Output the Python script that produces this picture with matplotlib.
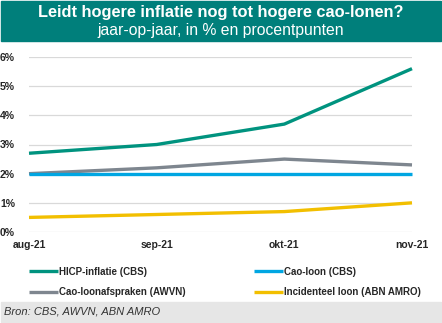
import matplotlib.pyplot as plt
from matplotlib.patches import Rectangle

maanden = ['aug-21', 'sep-21', 'okt-21', 'nov-21']
hicp = [2.7, 3.0, 3.7, 5.6]
cao_cbs = [2.0, 2.0, 2.0, 2.0]
cao_awvn = [2.0, 2.2, 2.5, 2.3]
incidenteel = [0.5, 0.6, 0.7, 1.0]
y_ticks = [0, 1, 2, 3, 4, 5, 6]

# volgorde zo gekozen dat de legenda (kolomsgewijs gevuld) klopt
series = [
    ('HICP-inflatie (CBS)', hicp, '#00937F'),
    ('Cao-loonafspraken (AWVN)', cao_awvn, '#7E868F'),
    ('Cao-loon (CBS)', cao_cbs, '#00A6E2'),
    ('Incidenteel loon (ABN AMRO)', incidenteel, '#F2BF00'),
]

plt.rcParams['font.family'] = ['Liberation Sans', 'DejaVu Sans']

W, H = 442, 323
fig = plt.figure(figsize=(W / 100, H / 100), dpi=100)

# kopbalk en bronbalk
fig.patches.append(Rectangle((1 / W, 1 - 41 / H), 440 / W, 40 / H,
                             transform=fig.transFigure, color='#007F7B', zorder=0))
fig.patches.append(Rectangle((1 / W, 1 / H), 440 / W, 20 / H,
                             transform=fig.transFigure, color='#E6E6E6', zorder=0))
fig.text(0.5, 1 - 12 / H, 'Leidt hogere inflatie nog tot hogere cao-lonen?',
         ha='center', va='center', color='white', fontsize=11.8, fontweight='bold')
fig.text(0.5, 1 - 31 / H, 'jaar-op-jaar, in % en procentpunten',
         ha='center', va='center', color='white', fontsize=11.3)
fig.text(4 / W, 11 / H, 'Bron: CBS, AWVN, ABN AMRO', ha='left', va='center',
         color='#333333', fontsize=8, style='italic')

ax = fig.add_axes([29 / W, 91 / H, 383 / W, 175 / H])
x = list(range(len(maanden)))
for naam, vals, kleur in series:
    ax.plot(x, vals, color=kleur, lw=2.4, label=naam, clip_on=False,
            solid_capstyle='butt')

ax.set_xlim(0, 3)
ax.set_ylim(0, 6)
ax.set_yticks(y_ticks)
ax.set_yticklabels([f'{v}%' for v in y_ticks])
ax.set_xticks(x)
ax.set_xticklabels(maanden)
ax.grid(axis='y', color='#D9D9D9', lw=0.9)
ax.set_axisbelow(True)
for s in ax.spines.values():
    s.set_visible(False)
ax.tick_params(length=0, labelsize=7.5, colors='#262626')
ax.tick_params(axis='y', pad=10)
ax.tick_params(axis='x', pad=6)
for lbl in ax.get_xticklabels() + ax.get_yticklabels():
    lbl.set_fontweight('bold')

leg = fig.legend(loc='upper left', bbox_to_anchor=(20 / W, 1 - 258 / H), ncol=2,
                 frameon=False, fontsize=7, handlelength=3.0, handletextpad=0.1,
                 columnspacing=7.0, labelspacing=1.1)
for t in leg.get_texts():
    t.set_fontweight('bold')
    t.set_color('#262626')

fig.savefig('out.png', dpi=100)
